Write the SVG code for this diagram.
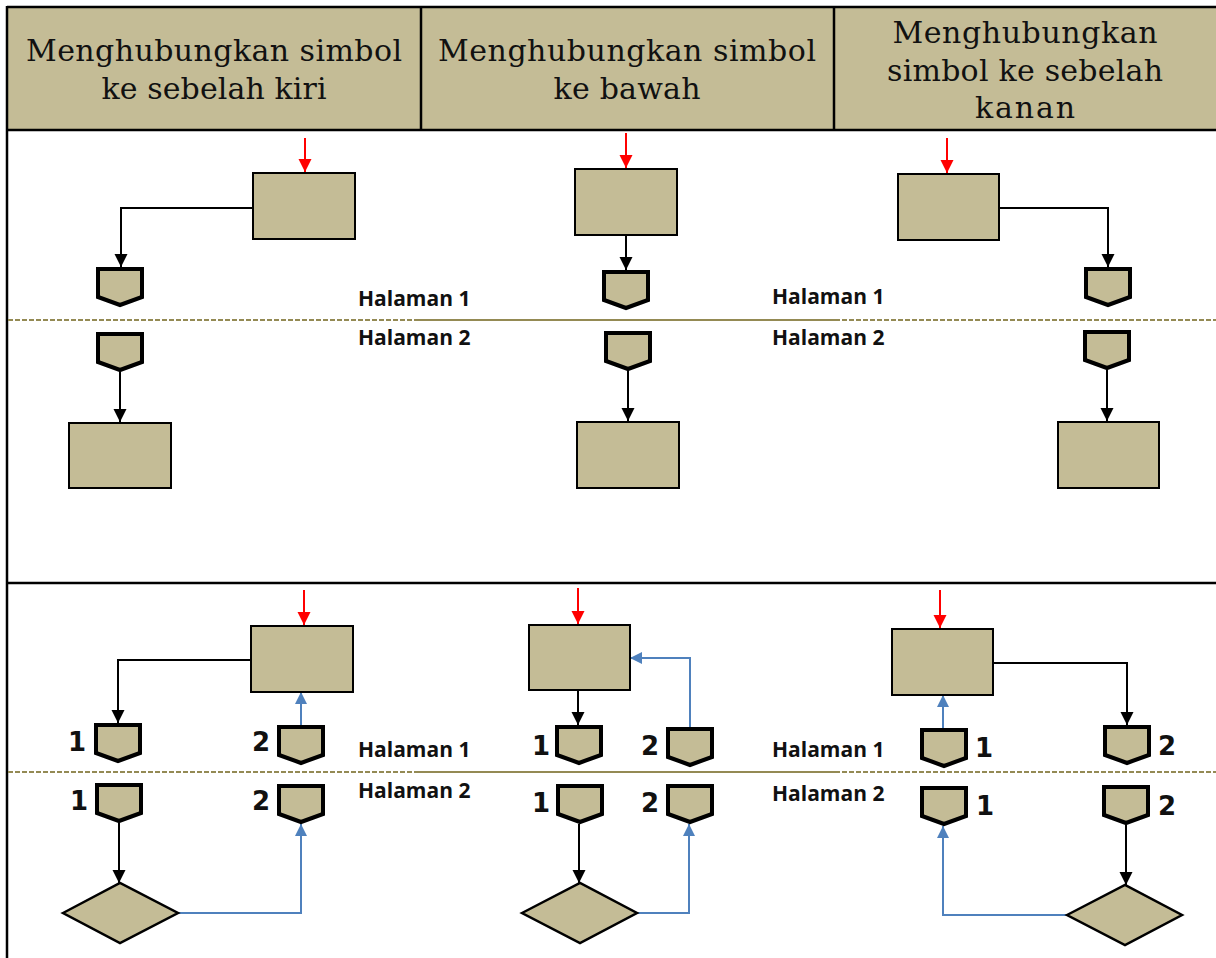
<svg xmlns="http://www.w3.org/2000/svg" xmlns:xlink="http://www.w3.org/1999/xlink" width="1216" height="958" viewBox="0 0 1216 958">
<style>
.hdr{font-family:"DejaVu Serif","Liberation Serif",serif;font-size:30px;fill:#111;text-anchor:middle}
.hal{font-family:"Open Sans","Liberation Sans",sans-serif;font-size:21px;font-weight:bold;fill:#111}
.num{font-family:"DejaVu Sans","Liberation Sans",sans-serif;font-size:26px;font-weight:bold;fill:#111;text-anchor:middle}
.proc{fill:#C4BC96;stroke:#000;stroke-width:2}
.op{fill:#C4BC96;stroke:#000;stroke-width:4;stroke-linejoin:miter}
.dec{fill:#C4BC96;stroke:#000;stroke-width:2.5}
.blk{fill:none;stroke:#000;stroke-width:2}
.blu{fill:none;stroke:#4F81BD;stroke-width:2}
.red{fill:none;stroke:#FF0000;stroke-width:2}
.grid{stroke:#000;stroke-width:2.5;fill:none}
.dash{stroke:#948A54;stroke-width:2;stroke-dasharray:5 2;fill:none}
.solid{stroke:#948A54;stroke-width:2;fill:none}
</style>
<defs>
<marker id="ab" markerUnits="userSpaceOnUse" markerWidth="14" markerHeight="14" refX="13" refY="6.5" orient="auto"><path d="M0,0 L13,6.5 L0,13 Z" fill="#000"/></marker>
<marker id="au" markerUnits="userSpaceOnUse" markerWidth="14" markerHeight="14" refX="12" refY="6" orient="auto"><path d="M0,0 L12,6 L0,12 Z" fill="#4F81BD"/></marker>
<marker id="ar" markerUnits="userSpaceOnUse" markerWidth="14" markerHeight="14" refX="13" refY="6.5" orient="auto"><path d="M0,0 L13,6.5 L0,13 Z" fill="#FF0000"/></marker>
<path id="opp" d="M0,0 H44 V28 L22,36 L0,28 Z"/>
</defs>

<g id="table">
<rect x="8" y="8" width="1208" height="122" fill="#C4BC96"/>
<line class="grid" x1="7" y1="7" x2="1216" y2="7"/>
<line class="grid" x1="7" y1="6" x2="7" y2="958"/>
<line class="grid" x1="7" y1="130" x2="1216" y2="130"/>
<line class="grid" x1="421" y1="7" x2="421" y2="130"/>
<line class="grid" x1="834" y1="7" x2="834" y2="130"/>
<line class="grid" x1="7" y1="583" x2="1216" y2="583"/>
</g>

<g id="header">
<text class="hdr" x="214" y="61" textLength="376" lengthAdjust="spacing">Menghubungkan simbol</text>
<text class="hdr" x="214" y="99" textLength="225" lengthAdjust="spacing">ke sebelah kiri</text>
<text class="hdr" x="627" y="61" textLength="378" lengthAdjust="spacing">Menghubungkan simbol</text>
<text class="hdr" x="627" y="99" textLength="147" lengthAdjust="spacing">ke bawah</text>
<text class="hdr" x="1025" y="43" textLength="265" lengthAdjust="spacing">Menghubungkan</text>
<text class="hdr" x="1025" y="81" textLength="276" lengthAdjust="spacing">simbol ke sebelah</text>
<text class="hdr" x="1025" y="118" textLength="100" lengthAdjust="spacing">kanan</text>
</g>

<g id="page-lines">
<line class="dash" x1="8" y1="320" x2="415" y2="320"/>
<line class="solid" x1="415" y1="320" x2="835" y2="320"/>
<line class="dash" x1="835" y1="320" x2="1216" y2="320"/>
<line class="dash" x1="8" y1="772" x2="415" y2="772"/>
<line class="solid" x1="415" y1="772" x2="835" y2="772"/>
<line class="dash" x1="835" y1="772" x2="1216" y2="772"/>
</g>

<g id="page-labels">
<text class="hal" x="358" y="306">Halaman 1</text>
<text class="hal" x="358" y="345">Halaman 2</text>
<text class="hal" x="772" y="304">Halaman 1</text>
<text class="hal" x="772" y="345">Halaman 2</text>
<text class="hal" x="358" y="757">Halaman 1</text>
<text class="hal" x="358" y="798">Halaman 2</text>
<text class="hal" x="772" y="757">Halaman 1</text>
<text class="hal" x="772" y="801">Halaman 2</text>
</g>

<g id="connectors">
<line class="red" x1="305" y1="138" x2="305" y2="172" marker-end="url(#ar)"/>
<line class="red" x1="626" y1="133" x2="626" y2="168" marker-end="url(#ar)"/>
<line class="red" x1="947" y1="138" x2="947" y2="173" marker-end="url(#ar)"/>
<line class="red" x1="304" y1="590" x2="304" y2="625" marker-end="url(#ar)"/>
<line class="red" x1="578" y1="588" x2="578" y2="624" marker-end="url(#ar)"/>
<line class="red" x1="940" y1="590" x2="940" y2="628" marker-end="url(#ar)"/>
<path class="blk" d="M252,208 H121 V267" marker-end="url(#ab)"/>
<line class="blk" x1="626" y1="235" x2="626" y2="270" marker-end="url(#ab)"/>
<path class="blk" d="M999,208 H1108 V267" marker-end="url(#ab)"/>
<line class="blk" x1="120" y1="372" x2="120" y2="422" marker-end="url(#ab)"/>
<line class="blk" x1="628" y1="371" x2="628" y2="421" marker-end="url(#ab)"/>
<line class="blk" x1="1107" y1="370" x2="1107" y2="421" marker-end="url(#ab)"/>
<path class="blk" d="M250,660 H118 V723" marker-end="url(#ab)"/>
<line class="blk" x1="578" y1="690" x2="578" y2="725" marker-end="url(#ab)"/>
<path class="blk" d="M993,663 H1127 V725" marker-end="url(#ab)"/>
<line class="blk" x1="119" y1="823" x2="119" y2="883" marker-end="url(#ab)"/>
<line class="blk" x1="579" y1="824" x2="579" y2="883" marker-end="url(#ab)"/>
<line class="blk" x1="1126" y1="825" x2="1126" y2="885" marker-end="url(#ab)"/>
<line class="blu" x1="301" y1="725" x2="301" y2="692" marker-end="url(#au)"/>
<path class="blu" d="M690,727 V658 H630" marker-end="url(#au)"/>
<line class="blu" x1="943" y1="728" x2="943" y2="695" marker-end="url(#au)"/>
<path class="blu" d="M178,913 H301 V824" marker-end="url(#au)"/>
<path class="blu" d="M637,913 H689 V824" marker-end="url(#au)"/>
<path class="blu" d="M1067,915 H943 V826" marker-end="url(#au)"/>
</g>

<g id="t-proc-left"><rect class="proc" x="253" y="173" width="102" height="66"/></g>
<g id="t-proc-mid"><rect class="proc" x="575" y="169" width="102" height="66"/></g>
<g id="t-proc-right"><rect class="proc" x="898" y="174" width="101" height="66"/></g>
<g id="t-off-left-1"><use href="#opp" xlink:href="#opp" class="op" x="98" y="269"/></g>
<g id="t-off-mid-1"><use href="#opp" xlink:href="#opp" class="op" x="604" y="272"/></g>
<g id="t-off-right-1"><use href="#opp" xlink:href="#opp" class="op" x="1086" y="269"/></g>
<g id="t-off-left-2"><use href="#opp" xlink:href="#opp" class="op" x="98" y="334"/></g>
<g id="t-off-mid-2"><use href="#opp" xlink:href="#opp" class="op" x="606" y="333"/></g>
<g id="t-off-right-2"><use href="#opp" xlink:href="#opp" class="op" x="1085" y="332"/></g>
<g id="t-proc-left-2"><rect class="proc" x="69" y="423" width="102" height="65"/></g>
<g id="t-proc-mid-2"><rect class="proc" x="577" y="422" width="102" height="66"/></g>
<g id="t-proc-right-2"><rect class="proc" x="1058" y="422" width="101" height="66"/></g>

<g id="b-proc-left"><rect class="proc" x="251" y="626" width="102" height="66"/></g>
<g id="b-proc-mid"><rect class="proc" x="529" y="625" width="101" height="65"/></g>
<g id="b-proc-right"><rect class="proc" x="892" y="629" width="101" height="66"/></g>

<g id="b-off-left-1a"><use href="#opp" xlink:href="#opp" class="op" x="96" y="725"/><text class="num" x="77" y="751">1</text></g>
<g id="b-off-left-2a"><use href="#opp" xlink:href="#opp" class="op" x="279" y="727"/><text class="num" x="261" y="751">2</text></g>
<g id="b-off-left-1b"><use href="#opp" xlink:href="#opp" class="op" x="97" y="785"/><text class="num" x="79" y="810">1</text></g>
<g id="b-off-left-2b"><use href="#opp" xlink:href="#opp" class="op" x="279" y="786"/><text class="num" x="261" y="810">2</text></g>

<g id="b-off-mid-1a"><use href="#opp" xlink:href="#opp" class="op" x="557" y="727"/><text class="num" x="541" y="755">1</text></g>
<g id="b-off-mid-2a"><use href="#opp" xlink:href="#opp" class="op" x="668" y="729"/><text class="num" x="650" y="755">2</text></g>
<g id="b-off-mid-1b"><use href="#opp" xlink:href="#opp" class="op" x="558" y="786"/><text class="num" x="541" y="812">1</text></g>
<g id="b-off-mid-2b"><use href="#opp" xlink:href="#opp" class="op" x="668" y="786"/><text class="num" x="650" y="812">2</text></g>

<g id="b-off-right-1a"><use href="#opp" xlink:href="#opp" class="op" x="922" y="730"/><text class="num" x="984" y="757">1</text></g>
<g id="b-off-right-2a"><use href="#opp" xlink:href="#opp" class="op" x="1105" y="727"/><text class="num" x="1167" y="755">2</text></g>
<g id="b-off-right-1b"><use href="#opp" xlink:href="#opp" class="op" x="922" y="788"/><text class="num" x="985" y="815">1</text></g>
<g id="b-off-right-2b"><use href="#opp" xlink:href="#opp" class="op" x="1104" y="787"/><text class="num" x="1167" y="815">2</text></g>

<g id="b-dec-left"><polygon class="dec" points="63,913 120,883 178,913 120,943"/></g>
<g id="b-dec-mid"><polygon class="dec" points="522,913 580,883 637,913 580,943"/></g>
<g id="b-dec-right"><polygon class="dec" points="1067,915 1125,885 1182,915 1125,945"/></g>
</svg>
